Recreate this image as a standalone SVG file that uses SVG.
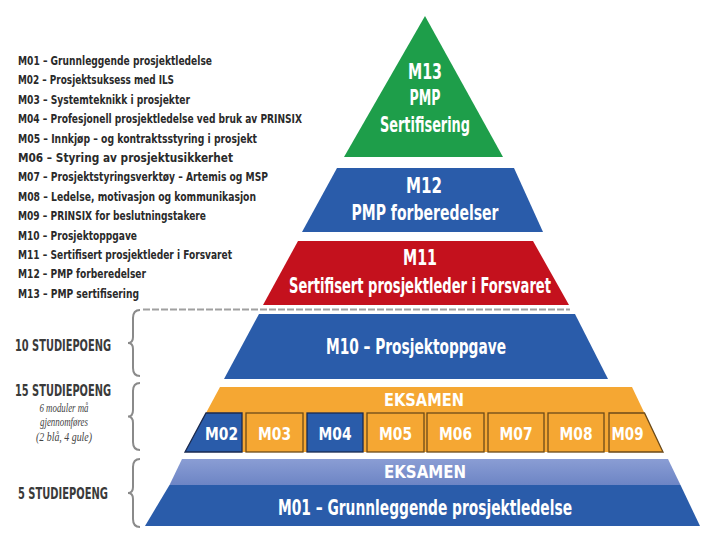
<svg xmlns="http://www.w3.org/2000/svg" width="720" height="540" viewBox="0 0 720 540">
<defs>
<linearGradient id="lb" x1="0" y1="0" x2="0" y2="1">
<stop offset="0" stop-color="#8a9dd4"/>
<stop offset="1" stop-color="#6d85c5"/>
</linearGradient>
</defs>
<style>
.lst{font-family:"Liberation Sans Narrow","DejaVu Sans Condensed","Liberation Sans",sans-serif;font-weight:bold;font-size:12.5px;fill:#2a2a2a}
.lbl{font-family:"Liberation Sans Narrow","DejaVu Sans Condensed","Liberation Sans",sans-serif;font-weight:bold;font-size:15px;fill:#3a3a3a;text-anchor:middle}
.it{font-family:"Liberation Serif",serif;font-style:italic;font-size:13px;fill:#444;text-anchor:middle}
.w{font-family:"Liberation Sans Narrow","DejaVu Sans Condensed","Liberation Sans",sans-serif;font-weight:bold;font-size:21px;fill:#fff;text-anchor:middle}
.ws{font-family:"Liberation Sans Narrow","DejaVu Sans Condensed","Liberation Sans",sans-serif;font-weight:bold;font-size:18px;fill:#fff;text-anchor:middle}
.blue{fill:#2a5caa}
.ob{fill:#f5a733;stroke:#6b4a1a;stroke-width:1.3}
.bb{fill:#2a5caa;stroke:#1a2a50;stroke-width:1.3}
.brace{fill:none;stroke:#8a8a8a;stroke-width:2}
</style>
<rect width="720" height="540" fill="#fff"/>

<g id="legend">
<text class="lst" x="18" y="65" textLength="194" lengthAdjust="spacingAndGlyphs">M01 – Grunnleggende prosjektledelse</text>
<text class="lst" x="18" y="84.4" textLength="156" lengthAdjust="spacingAndGlyphs">M02 – Prosjektsuksess med ILS</text>
<text class="lst" x="18" y="103.8" textLength="172" lengthAdjust="spacingAndGlyphs">M03 – Systemteknikk i prosjekter</text>
<text class="lst" x="18" y="123.2" textLength="284" lengthAdjust="spacingAndGlyphs">M04 – Profesjonell prosjektledelse ved bruk av PRINSIX</text>
<text class="lst" x="18" y="142.6" textLength="239" lengthAdjust="spacingAndGlyphs">M05 – Innkjøp – og kontraktsstyring i prosjekt</text>
<text class="lst" x="18" y="162" textLength="215" lengthAdjust="spacingAndGlyphs">M06 – Styring av prosjektusikkerhet</text>
<text class="lst" x="18" y="181.4" textLength="250" lengthAdjust="spacingAndGlyphs">M07 – Prosjektstyringsverktøy – Artemis og MSP</text>
<text class="lst" x="18" y="200.8" textLength="238" lengthAdjust="spacingAndGlyphs">M08 – Ledelse, motivasjon og kommunikasjon</text>
<text class="lst" x="18" y="220.2" textLength="188" lengthAdjust="spacingAndGlyphs">M09 – PRINSIX for beslutningstakere</text>
<text class="lst" x="18" y="239.6" textLength="119" lengthAdjust="spacingAndGlyphs">M10 – Prosjektoppgave</text>
<text class="lst" x="18" y="259" textLength="214" lengthAdjust="spacingAndGlyphs">M11 – Sertifisert prosjektleder i Forsvaret</text>
<text class="lst" x="18" y="278.4" textLength="128" lengthAdjust="spacingAndGlyphs">M12 – PMP forberedelser</text>
<text class="lst" x="18" y="297.8" textLength="121" lengthAdjust="spacingAndGlyphs">M13 – PMP sertifisering</text>
</g>

<g id="credits">
<text class="lbl" x="63" y="350.5" textLength="96" lengthAdjust="spacingAndGlyphs">10 STUDIEPOENG</text>
<text class="lbl" x="63" y="395.5" textLength="96" lengthAdjust="spacingAndGlyphs">15 STUDIEPOENG</text>
<text class="it" x="64" y="412" textLength="49" lengthAdjust="spacingAndGlyphs">6 moduler må</text>
<text class="it" x="64" y="426" textLength="48" lengthAdjust="spacingAndGlyphs">gjennomføres</text>
<text class="it" x="64" y="441" textLength="56" lengthAdjust="spacingAndGlyphs">(2 blå, 4 gule)</text>
<text class="lbl" x="63" y="498.5" textLength="90" lengthAdjust="spacingAndGlyphs">5 STUDIEPOENG</text>
<path class="brace" d="M140,310 Q133,310 133,318 L133,337 Q133,343 128,343 Q133,343 133,349 L133,368 Q133,376 140,376"/>
<path class="brace" d="M140,383 Q133,383 133,391 L133,410 Q133,416.5 128,416.5 Q133,416.5 133,423 L133,442 Q133,450 140,450"/>
<path class="brace" d="M140,459 Q133,459 133,467 L133,487 Q133,493 128,493 Q133,493 133,499 L133,519 Q133,527 140,527"/>
</g>

<g id="connectors">
<line x1="143" y1="309.5" x2="570" y2="309.5" stroke="#a0a0a0" stroke-width="2.2" stroke-dasharray="7 2"/>
</g>

<g id="m13">
<polygon points="425,16 503,157 344,157" fill="#1e9e4a"/>
<text class="w" x="425" y="79" textLength="34" lengthAdjust="spacingAndGlyphs">M13</text>
<text class="w" x="425" y="105" textLength="31" lengthAdjust="spacingAndGlyphs">PMP</text>
<text class="w" x="425" y="132" textLength="90" lengthAdjust="spacingAndGlyphs">Sertifisering</text>
</g>

<g id="m12">
<polygon class="blue" points="337,168 514,168 543,232 302,232"/>
<text class="w" x="424" y="193" textLength="36" lengthAdjust="spacingAndGlyphs">M12</text>
<text class="w" x="425" y="220" textLength="147" lengthAdjust="spacingAndGlyphs">PMP forberedelser</text>
</g>

<g id="m11">
<polygon points="298,241 533,241 569,305 263,305" fill="#c4111d"/>
<text class="w" x="420" y="265" textLength="34" lengthAdjust="spacingAndGlyphs">M11</text>
<text class="w" x="420" y="293" textLength="262" lengthAdjust="spacingAndGlyphs">Sertifisert prosjektleder i Forsvaret</text>
</g>

<g id="m10">
<polygon class="blue" points="259,314 575,314 608,379 224,379"/>
<text class="w" x="416" y="354" textLength="180" lengthAdjust="spacingAndGlyphs">M10 – Prosjektoppgave</text>
</g>

<g id="electives">
<polygon points="220,387 632,387 663,452 185,452" fill="#f5a733"/>
<text class="ws" x="424" y="406" textLength="80" lengthAdjust="spacingAndGlyphs">EKSAMEN</text>
<g id="m02"><polygon class="bb" points="206,413 242,413 242,452 185,452"/><text class="ws" x="221.5" y="440" textLength="33" lengthAdjust="spacingAndGlyphs">M02</text></g>
<g id="m03"><rect class="ob" x="246" y="413" width="57" height="39"/><text class="ws" x="274.5" y="440" textLength="33" lengthAdjust="spacingAndGlyphs">M03</text></g>
<g id="m04"><rect class="bb" x="307" y="413" width="56" height="39"/><text class="ws" x="335" y="440" textLength="33" lengthAdjust="spacingAndGlyphs">M04</text></g>
<g id="m05"><rect class="ob" x="367" y="413" width="57" height="39"/><text class="ws" x="395.5" y="440" textLength="33" lengthAdjust="spacingAndGlyphs">M05</text></g>
<g id="m06"><rect class="ob" x="427" y="413" width="57" height="39"/><text class="ws" x="455.5" y="440" textLength="33" lengthAdjust="spacingAndGlyphs">M06</text></g>
<g id="m07"><rect class="ob" x="488" y="413" width="56" height="39"/><text class="ws" x="516" y="440" textLength="33" lengthAdjust="spacingAndGlyphs">M07</text></g>
<g id="m08"><rect class="ob" x="548" y="413" width="56" height="39"/><text class="ws" x="576" y="440" textLength="33" lengthAdjust="spacingAndGlyphs">M08</text></g>
<g id="m09"><polygon class="ob" points="609,413 644.5,413 663,452 609,452"/><text class="ws" x="627.5" y="440" textLength="32" lengthAdjust="spacingAndGlyphs">M09</text></g>
</g>

<g id="m01">
<polygon points="182,459 668,459 680.5,485 169.5,485" fill="url(#lb)"/>
<polygon class="blue" points="169.5,485 680.5,485 700,526 145,526"/>
<text class="ws" x="425" y="478" textLength="82" lengthAdjust="spacingAndGlyphs">EKSAMEN</text>
<text class="w" x="425" y="515" textLength="294" lengthAdjust="spacingAndGlyphs">M01 – Grunnleggende prosjektledelse</text>
</g>
</svg>
